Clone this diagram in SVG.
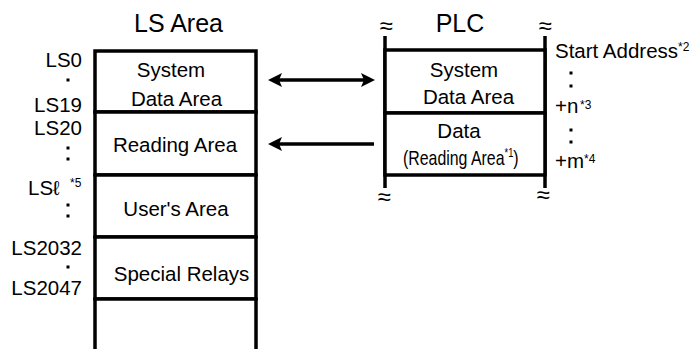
<svg xmlns="http://www.w3.org/2000/svg" width="691" height="349" viewBox="0 0 691 349">
<style>
text{font-family:"Liberation Sans",Arial,"DejaVu Sans",sans-serif;fill:#000;font-size:20.5px}
.title{font-size:25px}
.c{text-anchor:middle}
.e{text-anchor:end}
.sup{font-size:12px}
.cell{fill:#fff;stroke:#000;stroke-width:3.5}
.frame{stroke:#000;stroke-width:3.5;fill:none}
.conn{stroke:#000;stroke-width:3.5;fill:none}
.dt{fill:#000}
.wave{font-size:24px;text-anchor:middle}
</style>
<defs>
<marker id="ah" viewBox="0 0 14 14" refX="10" refY="7" markerWidth="14" markerHeight="14" markerUnits="userSpaceOnUse" orient="auto-start-reverse"><path d="M0,0 L14,7 L0,14 L3,7 Z" fill="#000"/></marker>
</defs>
<rect width="691" height="349" fill="#fff"/>

<g id="titles">
<text class="title c" x="178.5" y="32">LS Area</text>
<text class="title c" x="460" y="32">PLC</text>
</g>

<g id="ls-system"><rect class="cell" x="95" y="51" width="161" height="61"/>
<text class="c" x="171" y="77">System</text><text class="c" x="176.5" y="106">Data Area</text></g>
<g id="ls-reading"><rect class="cell" x="95" y="112" width="161" height="63"/>
<text class="c" x="175" y="152">Reading Area</text></g>
<g id="ls-user"><rect class="cell" x="95" y="175" width="161" height="62"/>
<text class="c" x="176" y="216">User's Area</text></g>
<g id="ls-special"><rect class="cell" x="95" y="237" width="161" height="62"/>
<text class="c" x="181.5" y="281">Special Relays</text></g>
<g id="ls-free"><rect class="cell" x="95" y="299" width="161" height="60"/></g>

<g id="ls-addresses">
<text class="e" x="82" y="67">LS0</text>
<text class="e" x="82" y="112">LS19</text>
<text class="e" x="82" y="135">LS20</text>
<text x="28" y="195">LSℓ<tspan class="sup" x="70" dy="-8">*5</tspan></text>
<text class="e" x="82" y="255">LS2032</text>
<text class="e" x="82" y="295">LS2047</text>
<g id="ls-ellipsis">
<rect class="dt" x="66.5" y="78.5" width="3" height="3"/>
<rect class="dt" x="66.5" y="146.5" width="3" height="3"/>
<rect class="dt" x="66.5" y="157.5" width="3" height="3"/>
<rect class="dt" x="66.5" y="203.5" width="3" height="3"/>
<rect class="dt" x="66.5" y="214.5" width="3" height="3"/>
<rect class="dt" x="66.5" y="265.5" width="3" height="3"/>
</g>
</g>

<g id="plc-frame">
<line class="frame" x1="385" y1="36" x2="385" y2="188"/>
<line class="frame" x1="545" y1="36" x2="545" y2="188"/>
<text class="wave" x="386" y="34">≈</text>
<text class="wave" x="545" y="34">≈</text>
<text class="wave" x="384" y="205">≈</text>
<text class="wave" x="543" y="203">≈</text>
</g>
<g id="plc-system"><rect class="cell" x="385" y="50" width="160" height="63"/>
<text class="c" x="464" y="77">System</text><text class="c" x="468.5" y="104">Data Area</text></g>
<g id="plc-data"><rect class="cell" x="385" y="113" width="160" height="62"/>
<text class="c" x="459" y="138">Data</text>
<text transform="translate(403,165) scale(0.775,1)" x="0" y="0">(Reading Area<tspan class="sup" dy="-8">*1</tspan><tspan dy="8">)</tspan></text></g>

<g id="plc-addresses">
<text x="555" y="58">Start Address<tspan class="sup" dy="-7">*2</tspan></text>
<text x="555" y="113">+n<tspan class="sup" x="580" dy="-4">*3</tspan></text>
<text x="555" y="168">+m<tspan class="sup" dy="-5">*4</tspan></text>
<g id="plc-ellipsis">
<rect class="dt" x="569.5" y="71.5" width="3" height="3"/>
<rect class="dt" x="569.5" y="84.5" width="3" height="3"/>
<rect class="dt" x="569.5" y="128.5" width="3" height="3"/>
<rect class="dt" x="569.5" y="140.5" width="3" height="3"/>
</g>
</g>

<g id="connectors">
<line class="conn" x1="272" y1="80" x2="371" y2="80" marker-start="url(#ah)" marker-end="url(#ah)"/>
<line class="conn" x1="374" y1="144" x2="272" y2="144" marker-end="url(#ah)"/>
</g>
</svg>
